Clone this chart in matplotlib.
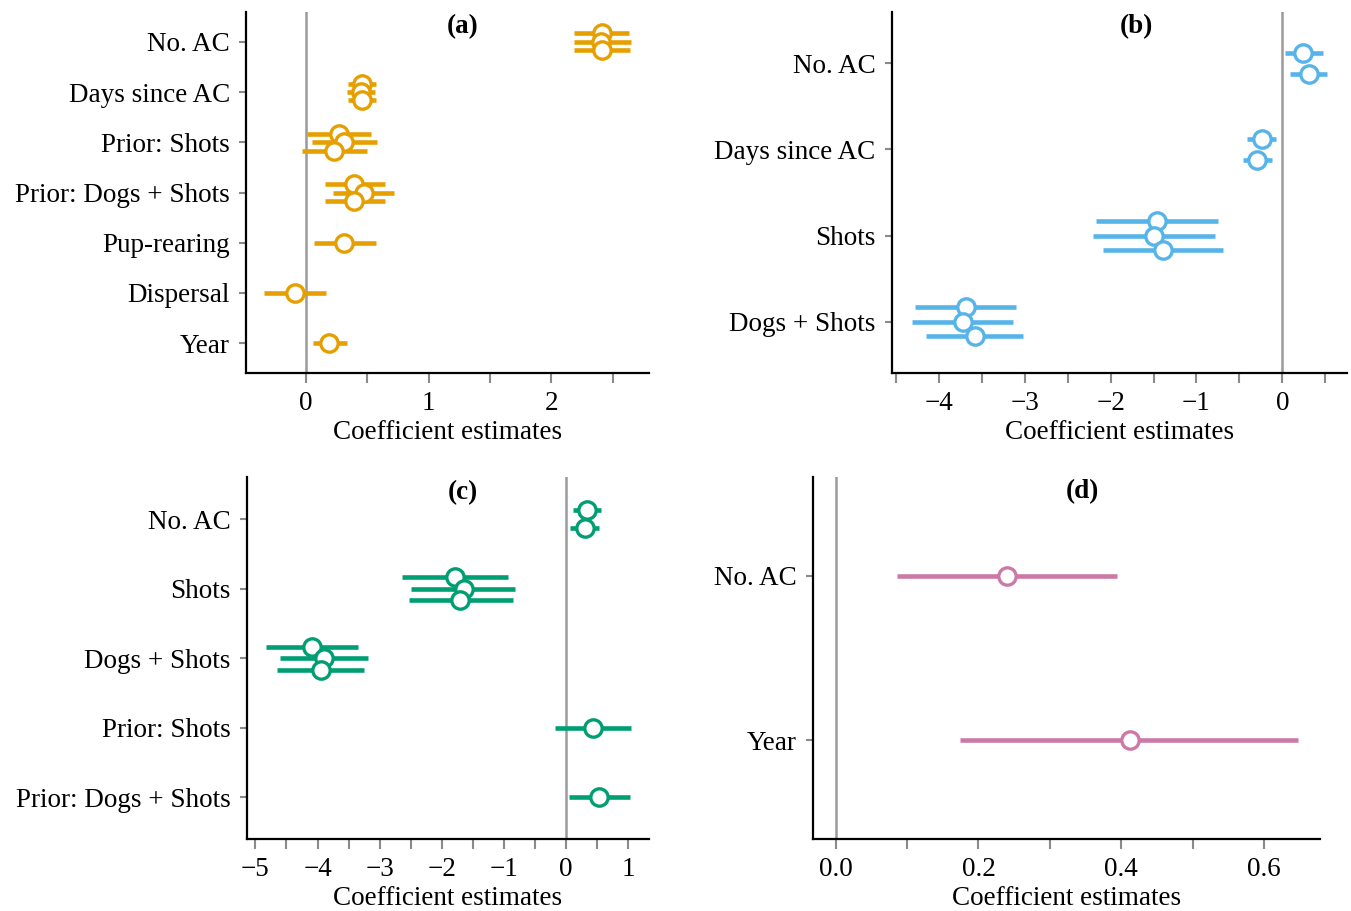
import matplotlib
matplotlib.use("Agg")
import matplotlib.pyplot as plt
import numpy as np

plt.rcParams['font.family'] = ['Liberation Serif', 'DejaVu Serif']
plt.rcParams['font.size'] = 19.5

# panel (a)
cats_a = ["No. AC", "Days since AC", "Prior: Shots", "Prior: Dogs + Shots",
          "Pup-rearing", "Dispersal", "Year"]
est_a = [[2.41, 2.40, 2.41], [0.453, 0.45, 0.453], [0.27, 0.31, 0.23],
         [0.39, 0.47, 0.39], [0.31], [-0.09], [0.19]]
lo_a = [[2.18, 2.185, 2.185], [0.34, 0.335, 0.34], [0.01, 0.045, -0.035],
        [0.15, 0.22, 0.15], [0.065], [-0.34], [0.055]]
hi_a = [[2.635, 2.65, 2.64], [0.57, 0.565, 0.57], [0.53, 0.575, 0.495],
        [0.64, 0.72, 0.64], [0.57], [0.16], [0.33]]

# panel (b)
cats_b = ["No. AC", "Days since AC", "Shots", "Dogs + Shots"]
est_b = [[0.245, 0.31], [-0.24, -0.29], [-1.46, -1.49, -1.385], [-3.68, -3.725, -3.58]]
lo_b = [[0.03, 0.09], [-0.415, -0.455], [-2.17, -2.20, -2.09], [-4.275, -4.315, -4.15]]
hi_b = [[0.47, 0.525], [-0.075, -0.125], [-0.75, -0.785, -0.695], [-3.10, -3.14, -3.015]]

# panel (c)
cats_c = ["No. AC", "Shots", "Dogs + Shots", "Prior: Shots", "Prior: Dogs + Shots"]
est_c = [[0.34, 0.30], [-1.79, -1.645, -1.70], [-4.09, -3.89, -3.95], [0.43], [0.535]]
lo_c = [[0.105, 0.07], [-2.64, -2.50, -2.525], [-4.825, -4.61, -4.645], [-0.18], [0.045]]
hi_c = [[0.56, 0.525], [-0.94, -0.825, -0.86], [-3.355, -3.19, -3.245], [1.05], [1.03]]

# panel (d)
cats_d = ["No. AC", "Year"]
est_d = [[0.24], [0.412]]
lo_d = [[0.086], [0.174]]
hi_d = [[0.394], [0.647]]

W, H = 1351, 911
fig = plt.figure(figsize=(W / 100, H / 100), dpi=100)


def make_ax(l, r, t, b):
    return fig.add_axes([l / W, 1 - b / H, (r - l) / W, (b - t) / H])


def coefplot(ax, cats, est, lo, hi, color, xlim, major, minor, fmt, label, tx):
    n = len(cats)
    ax.axvline(0, color='#9a9a9a', lw=1.8, zorder=1)
    for i in range(n):
        k = len(est[i])
        for j in range(k):
            y = i + 1 - 0.25 + 0.5 / k * (j + 0.5)
            ax.plot([lo[i][j], hi[i][j]], [y, y], color=color, lw=3.3,
                    solid_capstyle='butt', zorder=2)
            ax.plot(est[i][j], y, 'o', ms=12.5, mfc='white', mec=color,
                    mew=2.4, zorder=3)
    ax.set_ylim(n + 0.6, 0.4)
    ax.set_yticks(np.arange(1, n + 1))
    ax.set_yticklabels(cats)
    ax.set_xlim(*xlim)
    ax.set_xticks(minor)
    ax.set_xticklabels([fmt(v) if np.any(np.isclose(v, major)) else '' for v in minor])
    ax.set_xlabel('Coefficient estimates', labelpad=2.5)
    for s in ['top', 'right']:
        ax.spines[s].set_visible(False)
    for s in ['left', 'bottom']:
        ax.spines[s].set_linewidth(1.6)
        ax.spines[s].set_color('black')
    ax.tick_params(axis='x', color='#8a8a8a', width=1.5, length=7, pad=6,
                   labelcolor='black')
    ax.tick_params(axis='y', color='#8a8a8a', width=1.5, length=5, pad=6.5,
                   labelcolor='black')
    ax.text(tx, 0.958, label, transform=ax.transAxes, ha='center', va='center',
            fontweight='bold')


def minus(v):
    return ('%g' % v).replace('-', '\u2212')


ax = make_ax(246, 649, 11.7, 373.3)
coefplot(ax, cats_a, est_a, lo_a, hi_a, '#E69F00', (-0.49, 2.795),
         [0, 1, 2], np.arange(0, 3, 0.5), minus, '(a)', 0.538)

ax = make_ax(891.7, 1346.7, 11.7, 373.3)
coefplot(ax, cats_b, est_b, lo_b, hi_b, '#56B4E9', (-4.55, 0.75),
         [-4, -3, -2, -1, 0], np.arange(-4.5, 0.51, 0.5), minus, '(b)', 0.537)

ax = make_ax(246.7, 649.3, 477.3, 839)
coefplot(ax, cats_c, est_c, lo_c, hi_c, '#009E73', (-5.14, 1.34),
         [-5, -4, -3, -2, -1, 0, 1], np.arange(-5, 1.01, 0.5), minus, '(c)', 0.537)

ax = make_ax(812.7, 1320, 476.7, 839)
coefplot(ax, cats_d, est_d, lo_d, hi_d, '#CC79A7', (-0.032, 0.678),
         [0, 0.2, 0.4, 0.6], np.arange(0, 0.61, 0.1), lambda v: '%.1f' % v, '(d)', 0.531)

fig.savefig('out.png', dpi=100)
